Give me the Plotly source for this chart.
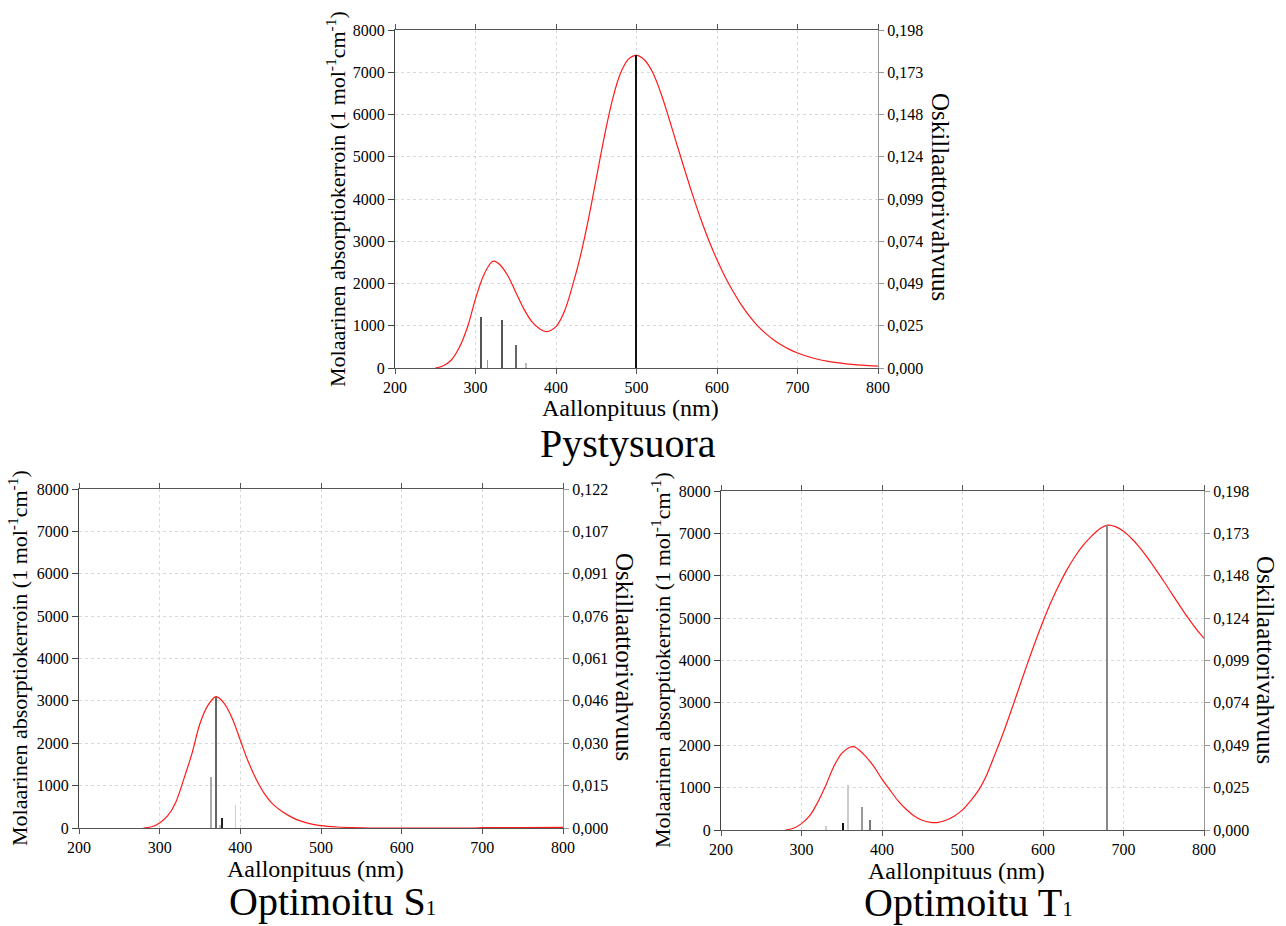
import plotly.graph_objects as go

W, H = 1286, 926
FONT = "Liberation Serif"

# ---- Pystysuora (vertical excitation) ----
wl_v = [250, 260, 270, 280, 290, 300, 310, 320, 323, 330, 340, 350, 360, 370, 380, 388,
        400, 410, 420, 430, 440, 450, 460, 470, 480, 490, 500, 510, 520, 530, 540, 550,
        560, 570, 580, 590, 600, 610, 620, 630, 640, 650, 660, 670, 680, 690, 700, 720,
        740, 760, 780, 800]
eps_v = [0, 55, 190, 490, 965, 1636, 2190, 2506, 2530, 2450, 2190, 1795, 1400, 1100, 925, 862,
         980, 1320, 1913, 2625, 3494, 4482, 5470, 6340, 6970, 7310, 7400, 7290, 7000, 6520, 5930, 5300,
         4680, 4080, 3520, 3010, 2560, 2160, 1810, 1500, 1235, 1010, 825, 670, 545, 440, 355, 230,
         150, 100, 68, 45]
stick_wl_v = [306.6, 314.9, 332.6, 350.0, 363.2, 499.6]
stick_f_v = [0.0297, 0.0047, 0.0283, 0.0137, 0.0031, 0.1830]
stick_col_v = ["#555555", "#999999", "#555555", "#666666", "#bbbbbb", "#111111"]

# ---- Optimoitu S1 ----
wl_s = [280, 290, 300, 310, 320, 330, 340, 350, 360, 370, 380, 390, 400, 410, 420, 430,
        440, 450, 460, 470, 480, 490, 500, 520, 540, 560, 600, 650, 690, 700, 750, 800]
eps_s = [0, 30, 120, 290, 610, 1160, 1755, 2466, 2900, 3099, 2940, 2585, 2070, 1557, 1138, 806,
         569, 411, 292, 198, 134, 87, 55, 24, 8, 0, 0, 0, 0, 8, 12, 15]
stick_wl_s = [364.1, 369.9, 375.3, 377.4, 394.0]
stick_f_s = [0.0185, 0.0472, 0.0011, 0.0035, 0.0084]
stick_col_s = ["#aaaaaa", "#666666", "#bbbbbb", "#222222", "#cccccc"]

# ---- Optimoitu T1 ----
wl_t = [280, 290, 300, 310, 320, 330, 340, 350, 360, 365, 370, 380, 390, 400, 410, 420,
        430, 440, 450, 460, 470, 480, 490, 500, 510, 520, 530, 540, 550, 560, 570, 580,
        590, 600, 610, 620, 630, 640, 650, 660, 670, 680, 690, 700, 710, 720, 730, 740,
        750, 760, 770, 780, 790, 800]
eps_t = [0, 40, 150, 332, 648, 1043, 1494, 1810, 1953, 1968, 1913, 1731, 1494, 1202, 941, 688,
         490, 332, 229, 182, 182, 237, 332, 474, 688, 941, 1300, 1770, 2260, 2790, 3340, 3890,
         4420, 4920, 5380, 5790, 6150, 6460, 6720, 6930, 7100, 7194, 7160, 7050, 6880, 6670, 6420, 6150,
         5870, 5580, 5290, 5010, 4750, 4520]
stick_wl_t = [331.0, 352.0, 357.4, 375.7, 385.6, 679.8]
stick_f_t = [0.0023, 0.0043, 0.0264, 0.0137, 0.0057, 0.1779]
stick_col_t = ["#cccccc", "#111111", "#cccccc", "#999999", "#777777", "#888888"]

# axis labels
x_ticks = [200, 300, 400, 500, 600, 700, 800]
eps_ticks = [0, 1000, 2000, 3000, 4000, 5000, 6000, 7000, 8000]
f_labels_198 = ["0,000", "0,025", "0,049", "0,074", "0,099", "0,124", "0,148", "0,173", "0,198"]
f_labels_122 = ["0,000", "0,015", "0,030", "0,046", "0,061", "0,076", "0,091", "0,107", "0,122"]
f_max_198 = 0.1978
f_max_122 = 0.1218

x_title = "Aallonpituus (nm)"
y_title = "Molaarinen absorptiokerroin (1 mol<sup>-1</sup>cm<sup>-1</sup>)"
y2_title = "Oskillaattorivahvuus"
panel_titles = ["Pystysuora",
                "Optimoitu S<span style='font-size:21px'>1</span>",
                "Optimoitu T<span style='font-size:21px'>1</span>"]

# plot-area boxes in pixels: left, right, top, bottom
boxes = [(395, 878, 30, 368), (79, 563, 489, 828), (721, 1204, 491, 830)]

panels = [
    (wl_v, eps_v, stick_wl_v, stick_f_v, stick_col_v, f_labels_198, f_max_198),
    (wl_s, eps_s, stick_wl_s, stick_f_s, stick_col_s, f_labels_122, f_max_122),
    (wl_t, eps_t, stick_wl_t, stick_f_t, stick_col_t, f_labels_198, f_max_198),
]

fig = go.Figure()
layout = {}
annotations = []


def px(x):
    return x / W


def py(y):
    return 1 - y / H


tick_font = dict(family=FONT, size=16, color="#000000")
grid_style = dict(showgrid=True, gridcolor="#d9d9d9", griddash="3px,3px", gridwidth=1)

for i, (wl, eps, swl, sf, scol, flab, fmax) in enumerate(panels):
    l, r, t, b = boxes[i]
    xa = f"xaxis{'' if i == 0 else i + 1}"
    ya = f"yaxis{2 * i + 1 if i else ''}"
    ya2 = f"yaxis{2 * i + 2}"
    xref = f"x{'' if i == 0 else i + 1}"
    yref = f"y{'' if i == 0 else 2 * i + 1}"
    yref2 = f"y{2 * i + 2}"

    fig.add_trace(go.Bar(x=swl, y=sf, width=1.2, marker=dict(color=scol, line=dict(width=0)),
                         xaxis=xref, yaxis=yref2, showlegend=False))
    fig.add_trace(go.Scatter(x=wl, y=eps, mode="lines",
                             line=dict(color="#ff1a1a", width=1.2, shape="spline", smoothing=1.0),
                             xaxis=xref, yaxis=yref, showlegend=False))

    layout[xa] = dict(domain=[px(l), px(r)], anchor=yref, range=[200, 800], automargin=False,
                      tickvals=x_ticks, ticktext=[str(v) for v in x_ticks],
                      showline=True, linecolor="#555555", linewidth=1, mirror="ticks",
                      ticks="outside", ticklen=5, tickcolor="#555555",
                      tickfont=tick_font, zeroline=False, **grid_style)
    layout[ya] = dict(domain=[py(b), py(t)], anchor=xref, range=[0, 8000], automargin=False,
                      tickvals=eps_ticks, ticktext=[str(v) for v in eps_ticks],
                      showline=True, linecolor="#444444", linewidth=1,
                      ticks="outside", ticklen=6, tickcolor="#444444",
                      tickfont=tick_font, zeroline=False, **grid_style)
    layout[ya2] = dict(overlaying=yref, anchor=xref, side="right", range=[0, fmax], automargin=False,
                       tickvals=[fmax * k / 8 for k in range(9)], ticktext=flab,
                       showline=True, linecolor="#999999", linewidth=1,
                       ticks="outside", ticklen=5, tickcolor="#999999",
                       showgrid=False, zeroline=False, tickfont=tick_font)

# axis titles and panel titles as annotations
x_title_pos = [(630, 408), (315, 869), (956, 871)]
y_title_pos = [(336, 199), (18, 658), (661, 660)]
y2_title_pos = [(940, 197), (625, 657), (1266, 660)]
panel_title_pos = [(628, 444), (332, 901), (968, 902)]

for i in range(3):
    annotations.append(dict(text=x_title, x=px(x_title_pos[i][0]), y=py(x_title_pos[i][1]),
                            xref="paper", yref="paper", showarrow=False,
                            xanchor="center", yanchor="middle",
                            font=dict(family=FONT, size=24, color="#000000")))
    annotations.append(dict(text=y_title, x=px(y_title_pos[i][0]), y=py(y_title_pos[i][1]),
                            xref="paper", yref="paper", showarrow=False, textangle=-90,
                            xanchor="center", yanchor="middle",
                            font=dict(family=FONT, size=22, color="#000000")))
    annotations.append(dict(text=y2_title, x=px(y2_title_pos[i][0]), y=py(y2_title_pos[i][1]),
                            xref="paper", yref="paper", showarrow=False, textangle=90,
                            xanchor="center", yanchor="middle",
                            font=dict(family=FONT, size=25, color="#000000")))
    annotations.append(dict(text=panel_titles[i], x=px(panel_title_pos[i][0]), y=py(panel_title_pos[i][1]),
                            xref="paper", yref="paper", showarrow=False,
                            xanchor="center", yanchor="middle",
                            font=dict(family=FONT, size=40, color="#000000")))

fig.update_layout(**layout)
fig.update_layout(template="none", width=W, height=H, margin=dict(l=0, r=0, t=0, b=0, pad=0),
                  paper_bgcolor="white", plot_bgcolor="white", showlegend=False,
                  separators=", ", annotations=annotations, bargap=0,
                  font=dict(family=FONT))

fig.write_html("out.html")
